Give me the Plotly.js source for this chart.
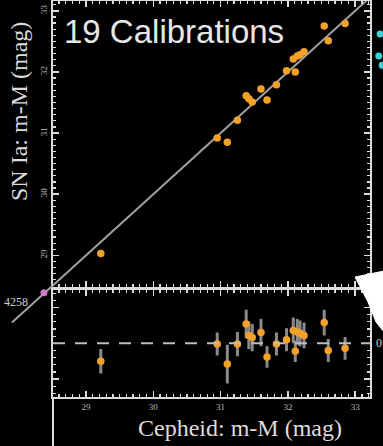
<!DOCTYPE html>
<html>
<head>
<meta charset="utf-8">
<script src="https://cdn.plot.ly/plotly-3.0.1.min.js"></script>
<style>html,body{margin:0;padding:0;background:#000;}#chart{width:383px;height:446px;}</style>
</head>
<body>
<div id="chart"></div>
<script>
// Cepheid distance modulus (x), SN Ia distance modulus (y)
var cepheidMu = [29.22, 30.95, 31.10, 31.25, 31.38, 31.42, 31.47, 31.60, 31.69, 31.83,
                 31.98, 32.08, 32.11, 32.14, 32.18, 32.24, 32.54, 32.60, 32.85];
var snMu      = [29.03, 30.92, 30.85, 31.21, 31.61, 31.56, 31.51, 31.72, 31.54, 31.79,
                 32.02, 32.21, 32.00, 32.26, 32.28, 32.33, 32.75, 32.51, 32.79];
var residual  = [-0.25, -0.01, -0.29, -0.01, 0.27, 0.11, 0.08, 0.15, -0.19, -0.01,
                  0.05, 0.18, -0.11, 0.16, 0.14, 0.11, 0.29, -0.10, -0.07];
var residErr  = [0.17, 0.16, 0.27, 0.17, 0.20, 0.19, 0.19, 0.19, 0.15, 0.16,
                 0.16, 0.18, 0.15, 0.18, 0.18, 0.18, 0.18, 0.16, 0.16];
var identityLine = [28.0, 34.0];
// fragments of neighbouring (cropped) panels, in the same magnitudes
var anchorX = [28.375], anchorY = [28.39], anchorLabel = '4258';
var edgeX = [33.37, 33.35, 33.40], edgeY = [32.62, 32.26, 32.11];
var xTicks = [29, 30, 31, 32, 33];
var yTicks = [29, 30, 31, 32, 33];

var axCol = '#dcdcdc';
var orange = '#f4a12a';
var tickFont = {family: 'Liberation Serif', size: 9, color: '#b8b8b8'};

var X0 = 28.51, X1 = 33.22, Y0 = 28.49, Y1 = 33.16;
var L = 53, R = 370, T = 1, B = 397, mainBottomFrac = 0.279;

function axisBase(extra) {
  var a = {
    showline: true, linecolor: axCol, linewidth: 2, mirror: 'allticks',
    ticks: 'inside', ticklen: 6, tickwidth: 1.5, tickcolor: axCol,
    showgrid: false, zeroline: false, tickfont: tickFont,
    minor: {ticks: 'inside', ticklen: 3, tickwidth: 1.2, tickcolor: axCol, dtick: 0.1}
  };
  for (var k in extra) a[k] = extra[k];
  return a;
}

var traces = [
  {x: identityLine, y: identityLine, mode: 'lines', xaxis: 'x', yaxis: 'y',
   line: {color: '#a0a0a0', width: 2}, hoverinfo: 'skip'},
  {x: cepheidMu, y: snMu, mode: 'markers', xaxis: 'x', yaxis: 'y',
   marker: {color: orange, size: 7.5}},
  {x: cepheidMu, y: residual, mode: 'markers', xaxis: 'x2', yaxis: 'y2',
   error_y: {type: 'data', array: residErr, visible: true, color: '#8a8a8a', thickness: 3, width: 0},
   marker: {color: orange, size: 7.5}}
];

var P = function (px) { return (px - L) / (R - L); };
var Q = function (py) { return (B - py) / (B - T); };
// main-panel data -> paper (for marks that fall outside the plot area)
var mainTop = T, mainBot = B - mainBottomFrac * (B - T);
function dx(v) { return P(L + (v - X0) / (X1 - X0) * (R - L)); }
function dy(v) { return Q(mainBot - (v - Y0) / (Y1 - Y0) * (mainBot - mainTop)); }
function dot(xv, yv, col, r) {
  var cx = L + (xv - X0) / (X1 - X0) * (R - L);
  var cy = mainBot - (yv - Y0) / (Y1 - Y0) * (mainBot - mainTop);
  return {type: 'circle', xref: 'paper', yref: 'paper', layer: 'above',
          x0: P(cx - r), x1: P(cx + r), y0: Q(cy + r), y1: Q(cy - r),
          fillcolor: col, line: {width: 0}};
}

var shapes = [
  {type: 'line', xref: 'paper', yref: 'y2', x0: 0, x1: 1, y0: 0, y1: 0,
   line: {color: '#bdbdbd', width: 2, dash: '12px,10px'}},
  {type: 'line', xref: 'paper', yref: 'paper', x0: dx(X0), y0: dy(X0), x1: dx(27.9), y1: dy(27.9),
   line: {color: '#a0a0a0', width: 2}},
  {type: 'line', xref: 'paper', yref: 'paper', x0: 0, y0: 0, x1: 0, y1: Q(446),
   line: {color: axCol, width: 2}},
  {type: 'path', xref: 'paper', yref: 'paper', layer: 'above',
   path: 'M ' + P(355) + ' ' + Q(277) + ' L ' + P(384) + ' ' + Q(271) + ' L ' + P(384) + ' ' + Q(332) +
         ' L ' + P(376) + ' ' + Q(322) + ' L ' + P(368) + ' ' + Q(302) + ' Z',
   fillcolor: '#ffffff', line: {color: '#ffffff', width: 1}}
];
shapes.push(dot(anchorX[0], anchorY[0], '#d27ac8', 3.5));
for (var i = 0; i < edgeX.length; i++) shapes.push(dot(edgeX[i], edgeY[i], '#3fd0d8', 3.5));

var layout = {
  width: 383, height: 446,
  margin: {l: L, r: 383 - R, t: T, b: 446 - B},
  paper_bgcolor: '#000', plot_bgcolor: '#000',
  showlegend: false,
  xaxis: axisBase({domain: [0, 1], anchor: 'y', range: [X0, X1], dtick: 1, showticklabels: false}),
  yaxis: axisBase({domain: [mainBottomFrac, 1], anchor: 'x', range: [Y0, Y1],
                   tickvals: yTicks, tickangle: -90}),
  xaxis2: axisBase({domain: [0, 1], anchor: 'y2', matches: 'x', range: [X0, X1], tickvals: xTicks}),
  yaxis2: axisBase({domain: [0, 0.271], anchor: 'x2', range: [-0.75, 0.75], dtick: 0.5,
                    showticklabels: false}),
  shapes: shapes,
  annotations: [
    {text: '19 Calibrations', xref: 'paper', yref: 'paper', x: P(62), y: Q(31),
     xanchor: 'left', yanchor: 'middle', showarrow: false,
     font: {family: 'Liberation Sans', size: 33, color: '#e6e6e6'}},
    {text: 'SN Ia: m-M (mag)', xref: 'paper', yref: 'paper', x: P(19), y: Q(112),
     xanchor: 'center', yanchor: 'middle', textangle: -90, showarrow: false,
     font: {family: 'Liberation Serif', size: 24, color: '#dcdcdc'}},
    {text: 'Cepheid: m-M (mag)', xref: 'paper', yref: 'paper', x: P(240), y: Q(428),
     xanchor: 'center', yanchor: 'middle', showarrow: false,
     font: {family: 'Liberation Serif', size: 24, color: '#dcdcdc'}},
    {text: anchorLabel, xref: 'paper', yref: 'paper', x: P(2), y: Q(302),
     xanchor: 'left', yanchor: 'middle', showarrow: false,
     font: {family: 'Liberation Serif', size: 12, color: '#cfcfcf'}},
    {text: '0', xref: 'paper', yref: 'y2', x: P(374), y: 0,
     xanchor: 'left', yanchor: 'middle', showarrow: false,
     font: {family: 'Liberation Serif', size: 12, color: '#cfcfcf'}}
  ]
};

Plotly.newPlot('chart', traces, layout, {displayModeBar: false, staticPlot: true});
</script>
</body>
</html>
